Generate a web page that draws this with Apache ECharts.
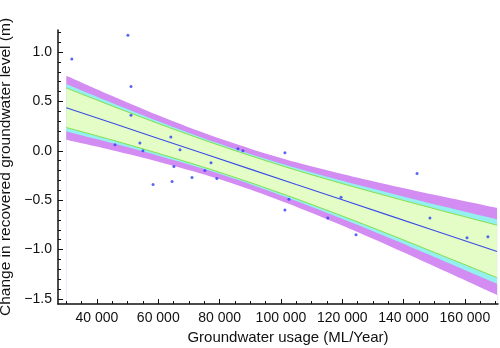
<!DOCTYPE html>
<html>
<head>
<meta charset="utf-8">
<script src="https://cdn.jsdelivr.net/npm/echarts@6/dist/echarts.min.js"></script>
<style>
  html, body { margin: 0; padding: 0; background: #fff; }
  #chart { width: 500px; height: 348px; }
</style>
</head>
<body>
<div id="chart"></div>
<script>
var usage  = [31800, 50100, 51100, 51100, 45900, 54000, 55000, 64100, 65100, 58300, 64500, 67100, 71000, 75200,
              77200, 79100, 86000, 87600, 101300, 102600, 101300, 119600, 115300, 124500, 144400, 148600, 160700, 167500];
var change = [0.93, 1.17, 0.65, 0.36, 0.06, 0.08, 0.0, 0.14, -0.16, -0.34, -0.31, 0.01, -0.27, -0.20,
              -0.12, -0.28, 0.02, 0.0, -0.02, -0.49, -0.60, -0.47, -0.68, -0.85, -0.23, -0.68, -0.88, -0.87];

// fitted line and bands, read at these x positions
var bandX     = [30000, 45000, 60000, 75000, 90000, 105000, 120000, 135000, 150000, 170500];
var fit       = [0.436, 0.281, 0.125, -0.030, -0.185, -0.341, -0.496, -0.651, -0.807, -1.019];
var purpleUp  = [0.761, 0.556, 0.360, 0.180, 0.022, -0.116, -0.235, -0.343, -0.445, -0.578];
var purpleLo  = [0.111, 0.006, -0.110, -0.240, -0.392, -0.566, -0.757, -0.959, -1.169, -1.460];
var cyanUp    = [0.676, 0.484, 0.299, 0.125, -0.032, -0.175, -0.304, -0.424, -0.540, -0.692];
var cyanLo    = [0.196, 0.078, -0.049, -0.185, -0.338, -0.507, -0.688, -0.878, -1.074, -1.345];
var greenUp   = [0.636, 0.453, 0.276, 0.108, -0.049, -0.196, -0.332, -0.461, -0.586, -0.753];
var greenLo   = [0.236, 0.109, -0.026, -0.168, -0.321, -0.486, -0.660, -0.841, -1.028, -1.284];

// ticks
var xTicks = [40000, 60000, 80000, 100000, 120000, 140000, 160000];
var yTicks = [-1.5, -1.0, -0.5, 0.0, 0.5, 1.0];

var xMin = 27300, xMax = 170800, yMin = -1.551, yMax = 1.223;

var xMinor = [];
for (var v = 30000; v <= xMax; v += 5000) xMinor.push(v);
var yMinor = [];
for (var k = -15; k <= 12; k++) yMinor.push(k / 10);

var font = 'Liberation Sans, Arial, Helvetica, sans-serif';

function pairs(xs, ys) {
    return xs.map(function (x, i) { return [x, ys[i]]; });
}

// each layer fills from its curve down to the bottom of the plot; later layers cover earlier ones
function fillLayer(name, ys, color) {
    return {
        name: name, type: 'line', data: pairs(bandX, ys), smooth: 0.3,
        symbol: 'none', silent: true,
        lineStyle: { width: 0, opacity: 0 },
        areaStyle: { color: color, opacity: 1, origin: 'start' },
        z: 2
    };
}

var purple = '#d28cf2', cyan = '#94f0ee', pale = '#e4fcc6';

var chart = echarts.init(document.getElementById('chart'));

var option = {
    animation: false,
    backgroundColor: '#fff',
    grid: { left: 58, right: 2, top: 30, bottom: 44, containLabel: false, outerBoundsMode: 'none' },
    xAxis: [
        {
            type: 'value', min: xMin, max: xMax,
            name: 'Groundwater usage (ML/Year)', nameLocation: 'middle', nameGap: 23,
            nameTextStyle: { fontFamily: font, fontSize: 15, color: '#111', padding: [0, 0, 0, 20] },
            axisLine: { show: true, onZero: false, lineStyle: { color: '#111', width: 1.5 } },
            axisTick: { show: true, inside: true, length: 5, customValues: xTicks, lineStyle: { color: '#111' } },
            axisLabel: {
                customValues: xTicks, margin: 7, fontFamily: font, fontSize: 14, color: '#111',
                formatter: function (val) { return String(val).replace(/\B(?=(\d{3})+(?!\d))/g, ' '); }
            },
            splitLine: { show: false },
            z: 10
        },
        {
            type: 'value', min: xMin, max: xMax, position: 'bottom',
            axisLine: { show: false, onZero: false },
            axisTick: { show: true, inside: true, length: 3, customValues: xMinor, lineStyle: { color: '#111' } },
            axisLabel: { show: false },
            splitLine: { show: false },
            z: 10
        }
    ],
    yAxis: [
        {
            type: 'value', min: yMin, max: yMax,
            name: 'Change in recovered groundwater level (m)', nameLocation: 'middle', nameGap: 39,
            nameTextStyle: { fontFamily: font, fontSize: 15.5, color: '#111' },
            axisLine: { show: true, onZero: false, lineStyle: { color: '#111', width: 1.5 } },
            axisTick: { show: true, inside: true, length: 5, customValues: yTicks, lineStyle: { color: '#111' } },
            axisLabel: {
                customValues: yTicks, margin: 6, fontFamily: font, fontSize: 14, color: '#111',
                formatter: function (val) { return val.toFixed(1).replace('-', '\u2212'); }
            },
            splitLine: { show: false },
            z: 10
        },
        {
            type: 'value', min: yMin, max: yMax, position: 'left',
            axisLine: { show: false, onZero: false },
            axisTick: { show: true, inside: true, length: 3, customValues: yMinor, lineStyle: { color: '#111' } },
            axisLabel: { show: false },
            splitLine: { show: false },
            z: 10
        }
    ],
    series: [
        fillLayer('purpleUp', purpleUp, purple),
        fillLayer('cyanUp', cyanUp, cyan),
        fillLayer('greenUp', greenUp, pale),
        fillLayer('greenLo', greenLo, cyan),
        fillLayer('cyanLo', cyanLo, purple),
        fillLayer('purpleLo', purpleLo, '#ffffff'),
        {
            name: 'greenUpLine', type: 'line', data: pairs(bandX, greenUp), smooth: 0.3, symbol: 'none',
            lineStyle: { color: '#86e04c', width: 1 }, z: 3
        },
        {
            name: 'greenLoLine', type: 'line', data: pairs(bandX, greenLo), smooth: 0.3, symbol: 'none',
            lineStyle: { color: '#86e04c', width: 1 }, z: 3
        },
        {
            name: 'fit', type: 'line', data: pairs(bandX, fit), symbol: 'none',
            lineStyle: { color: '#3a4ee6', width: 1.2 }, z: 4
        },
        {
            name: 'obs', type: 'scatter', data: pairs(usage, change), symbolSize: 3,
            itemStyle: { color: '#2a3ff5' }, z: 5
        }
    ]
};

chart.setOption(option);
</script>
</body>
</html>
